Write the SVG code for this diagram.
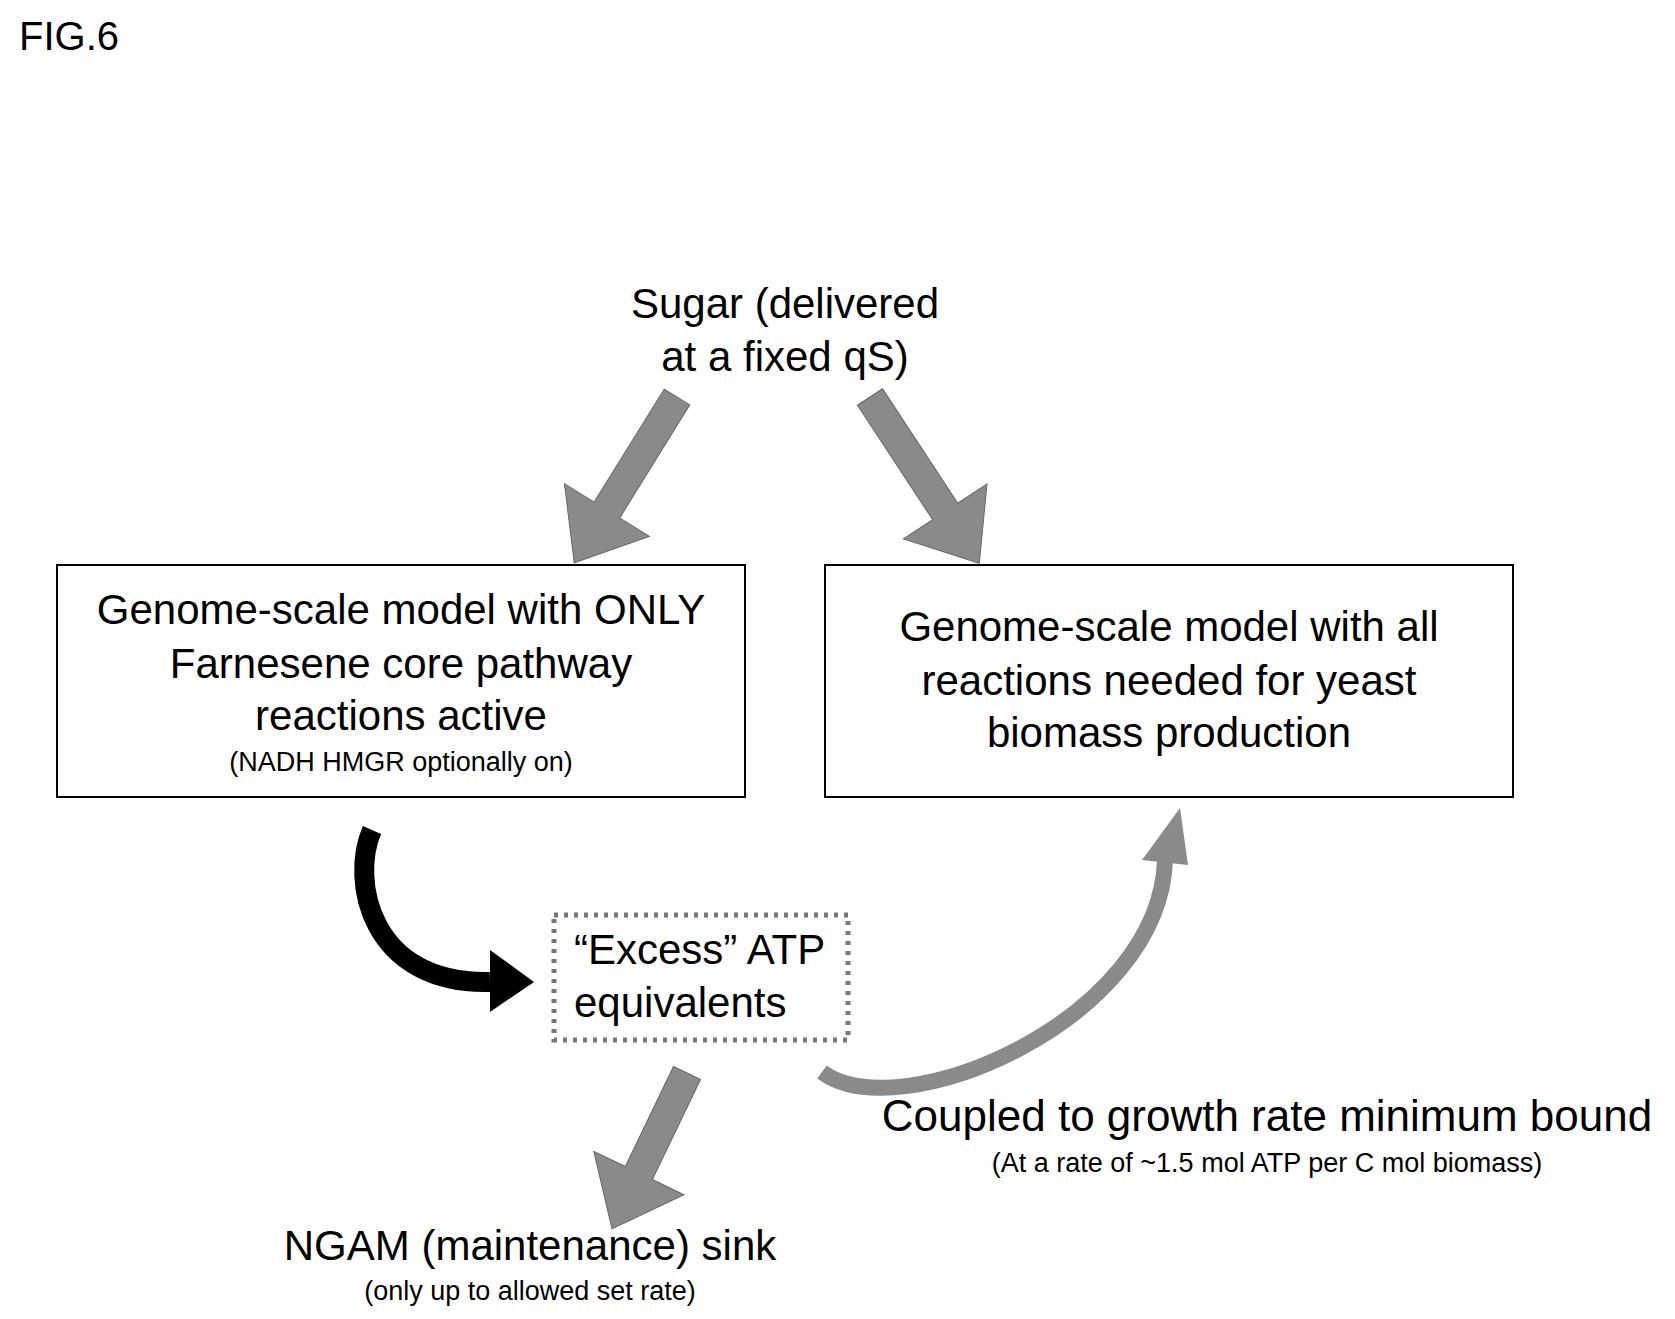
<svg xmlns="http://www.w3.org/2000/svg" width="1675" height="1319" viewBox="0 0 1675 1319">
<style>
text{font-family:"Liberation Sans",Arial,sans-serif;fill:#000;text-anchor:middle}
.big{font-size:42px}
.sm{font-size:27px}
.box{fill:#fff;stroke:#000;stroke-width:2}
.ga{fill:#8a8a8a;stroke:#666;stroke-width:1}
</style>
<rect width="1675" height="1319" fill="#fff"/>
<text x="19" y="50" style="text-anchor:start;font-size:40px">FIG.6</text>
<g id="sugar"><text class="big" x="785" y="318">Sugar (delivered</text><text class="big" x="785" y="371">at a fixed qS)</text></g>
<g id="left-model"><rect class="box" x="57" y="565" width="688" height="232"/>
<text class="big" x="401" y="624">Genome-scale model with ONLY</text>
<text class="big" x="401" y="678">Farnesene core pathway</text>
<text class="big" x="401" y="730">reactions active</text>
<text class="sm" x="401" y="771">(NADH HMGR optionally on)</text></g>
<g id="right-model"><rect class="box" x="825" y="565" width="688" height="232"/>
<text class="big" x="1169" y="641">Genome-scale model with all</text>
<text class="big" x="1169" y="695">reactions needed for yeast</text>
<text class="big" x="1169" y="747">biomass production</text></g>
<g id="excess"><rect x="554" y="915" width="294" height="125" fill="#fff" stroke="#777" stroke-width="5" stroke-dasharray="4,6"/>
<text class="big" style="text-anchor:start" x="574" y="964">“Excess” ATP</text>
<text class="big" style="text-anchor:start" x="574" y="1017">equivalents</text></g>
<g id="coupled"><text x="1267" y="1131" style="font-size:44px">Coupled to growth rate minimum bound</text>
<text class="sm" x="1267" y="1172">(At a rate of ~1.5 mol ATP per C mol biomass)</text></g>
<g id="ngam"><text class="big" x="530" y="1260">NGAM (maintenance) sink</text>
<text class="sm" x="530" y="1300">(only up to allowed set rate)</text></g>
<g id="connectors">
<g transform="translate(677,397) rotate(31.8)"><polygon class="ga" points="-15,0 15,0 15,133 50,133 0,195 -50,133 -15,133"/></g>
<g transform="translate(870,397) rotate(-33.3)"><polygon class="ga" points="-15,0 15,0 15,137 50,137 0,199 -50,137 -15,137"/></g>
<g transform="translate(687,1073) rotate(25.7)"><polygon class="ga" points="-15,0 15,0 15,111 50,111 0,173 -50,111 -15,111"/></g>
<path d="M372,830 C350,880 370,985 490,982" fill="none" stroke="#000" stroke-width="20"/>
<polygon points="490,950 534,982 490,1012" fill="#000"/>
<path d="M822,1072 C900,1130 1160,1020 1165,860" fill="none" stroke="#8a8a8a" stroke-width="16"/>
<polygon points="1142,860 1180,808 1188,865" fill="#8a8a8a"/>
</g>
</svg>
